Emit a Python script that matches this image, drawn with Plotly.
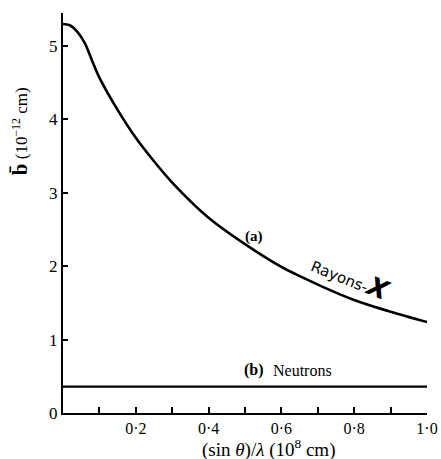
import plotly.graph_objects as go

# Data
x_vals = [0, 0.02, 0.04, 0.06, 0.08, 0.1, 0.15, 0.2, 0.25, 0.3, 0.4, 0.5, 0.6, 0.7, 0.8, 0.9, 1.0]
xray_b = [5.30, 5.28, 5.19, 5.04, 4.80, 4.57, 4.13, 3.75, 3.43, 3.14, 2.66, 2.30, 1.99, 1.75, 1.54, 1.38, 1.24]
neutron_x = [0, 1.0]
neutron_b = [0.36, 0.36]

x_tickvals = [0.2, 0.4, 0.6, 0.8, 1.0]
x_ticktext = ["0·2", "0·4", "0·6", "0·8", "1·0"]
y_tickvals = [0, 1, 2, 3, 4, 5]
y_ticktext = ["0", "1", "2", "3", "4", "5"]

SERIF = "Liberation Serif"

fig = go.Figure()
fig.add_trace(go.Scatter(x=x_vals, y=xray_b, mode="lines",
                         line=dict(color="black", width=2.6, shape="spline", smoothing=0.8), showlegend=False))
fig.add_trace(go.Scatter(x=neutron_x, y=neutron_b, mode="lines",
                         line=dict(color="black", width=2.4), showlegend=False))

fig.update_layout(
    width=441, height=459,
    margin=dict(l=63, r=14, t=13, b=46),
    paper_bgcolor="white", plot_bgcolor="white",
    font=dict(family=SERIF, color="black", size=15),
    xaxis=dict(range=[0, 1.0], showgrid=False, zeroline=False, showline=True, linecolor="black", linewidth=2,
               automargin=False,
               tickvals=x_tickvals, ticktext=x_ticktext, ticks="inside", ticklen=6, tickwidth=1.5, tickcolor="black",
               minor=dict(dtick=0.1, tick0=0, ticks="inside", ticklen=6, tickwidth=1.5, tickcolor="black"),
               tickfont=dict(family=SERIF, size=16)),
    yaxis=dict(range=[0, 5.45], showgrid=False, zeroline=False, showline=True, linecolor="black", linewidth=2,
               automargin=False,
               tickvals=y_tickvals, ticktext=y_ticktext, ticks="inside", ticklen=5, tickwidth=1.5, tickcolor="black",
               tickfont=dict(family=SERIF, size=17)),
)

# axis titles as annotations (positioned like the reference)
fig.add_annotation(xref="paper", yref="paper", x=0.565, y=-0.088, yanchor="middle",
                   text="(sin <i>θ</i>)/<i>λ</i> (10<sup>8</sup> cm)", showarrow=False,
                   font=dict(family=SERIF, size=19))
fig.add_annotation(xref="paper", yref="y", x=-0.118, y=3.84, xanchor="center", textangle=-90,
                   text="<b><span style='font-size:21px'>b̄</span></b> (10<sup>−12</sup> cm)", showarrow=False,
                   font=dict(family=SERIF, size=17))

fig.add_annotation(x=0.525, y=2.40, text="<b>(a)</b>", showarrow=False, font=dict(family=SERIF, size=15))
fig.add_annotation(x=0.79, y=1.85, text="Rayons-<b><i><span style='font-size:26px'>X</span></i></b>", textangle=22,
                   showarrow=False, font=dict(family="DejaVu Sans", size=15))
fig.add_annotation(x=0.525, y=0.59, text="<b>(b)</b>", showarrow=False, font=dict(family=SERIF, size=16))
fig.add_annotation(x=0.657, y=0.58, text="Neutrons", showarrow=False, font=dict(family=SERIF, size=16))

fig.write_html("out.html", config={"displayModeBar": False},
               post_script="document.body.style.margin='0px';")
